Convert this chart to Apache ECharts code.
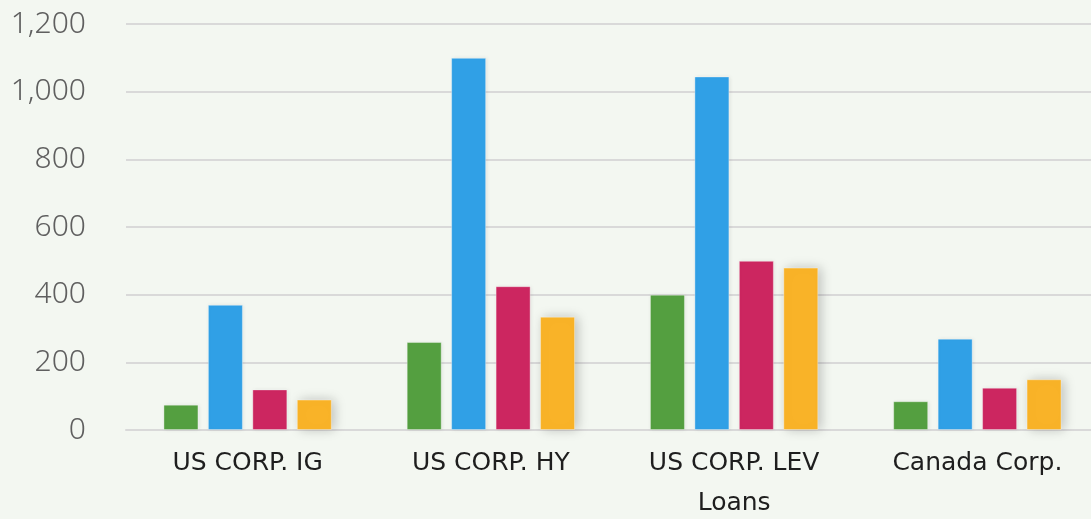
<!DOCTYPE html>
<html><head><meta charset="utf-8">
<script src="https://cdn.jsdelivr.net/npm/echarts@6/dist/echarts.min.js"></script>
<style>html,body{margin:0;padding:0;background:#f3f7f1}#c{width:1091px;height:519px}</style>
</head><body><div id="c"></div>
<script>
const categories = ["US CORP. IG", "US CORP. HY", "US CORP. LEV\nLoans", "Canada Corp."];
const seriesA = [75, 260, 400, 85];
const seriesB = [370, 1100, 1045, 270];
const seriesC = [120, 425, 500, 125];
const seriesD = [90, 335, 480, 150];
const colors = ["#549f40", "#30a0e6", "#cc2660", "#f9b328"];

const chart = echarts.init(document.getElementById('c'));
const mk = (data, i) => ({
  type: 'bar', data, barWidth: 35, barGap: '27%',
  itemStyle: {color: colors[i], borderColor: 'rgba(255,255,255,0.35)', borderWidth: 1,
    shadowBlur: i === 3 ? 12 : 4, shadowColor: 'rgba(0,0,0,' + (i === 3 ? 0.22 : 0.08) + ')', shadowOffsetX: i === 3 ? 3 : 1},
  animation: false
});
chart.setOption({
  backgroundColor: '#f3f7f1',
  animation: false,
  grid: {left: 126, top: 24, width: 973, height: 406, containLabel: false, outerBoundsMode: 'none'},
  xAxis: {type: 'category', data: categories,
    axisLine: {show: true, lineStyle: {color: '#d9d9d9', width: 2}},
    axisTick: {show: false},
    axisLabel: {fontFamily: 'DejaVu Sans', fontSize: 25, color: '#1e1e1e', margin: 13, lineHeight: 40}},
  yAxis: {type: 'value', min: 0, max: 1200, interval: 200,
    axisLine: {show: false}, axisTick: {show: false},
    splitLine: {lineStyle: {color: '#d9d9d9', width: 2}},
    axisLabel: {fontFamily: 'Noto Sans', fontWeight: 300, fontSize: 30, color: '#5f5f5f', margin: 40,
      formatter: v => v.toLocaleString('en-US')}},
  series: [mk(seriesA, 0), mk(seriesB, 1), mk(seriesC, 2), mk(seriesD, 3)]
});
</script></body></html>
